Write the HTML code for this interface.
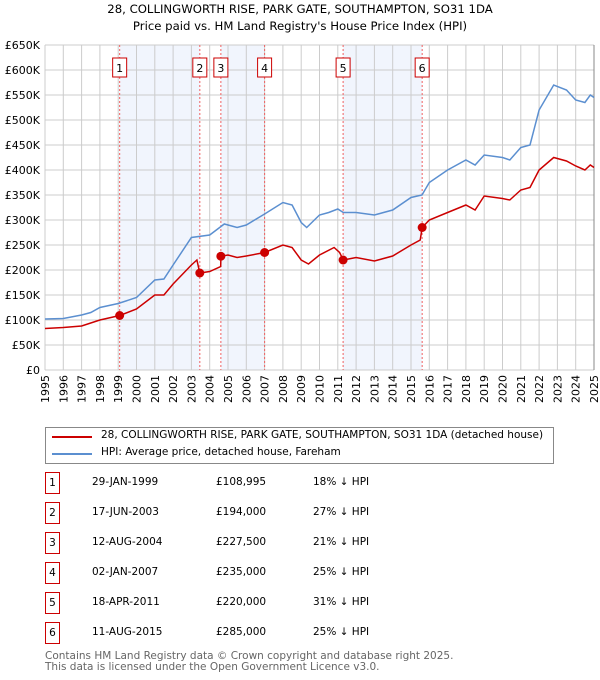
<!DOCTYPE html>
<html><head><meta charset="utf-8"><style>
body{margin:0;background:#fff;font-family:"DejaVu Sans","Liberation Sans",sans-serif;}
#wrap{position:relative;width:600px;height:680px;overflow:hidden;}
.t{position:absolute;font-size:10.5px;color:#000;white-space:nowrap;}
.nb{position:absolute;width:13px;height:20px;border:1px solid #c00;font-size:10.5px;text-align:center;line-height:20px;}
</style></head><body><div id="wrap">
<div class="t" style="left:0;width:600px;text-align:center;top:2px;font-size:11.7px">28, COLLINGWORTH RISE, PARK GATE, SOUTHAMPTON, SO31 1DA</div>
<div class="t" style="left:0;width:600px;text-align:center;top:19px;font-size:11.7px">Price paid vs. HM Land Registry's House Price Index (HPI)</div>
<svg id="chart" width="600" height="420" style="position:absolute;left:0;top:0"></svg>
<div style="position:absolute;left:45px;top:427px;width:507px;height:35px;border:1px solid #888;">
<div style="position:absolute;left:6px;top:8px;width:40px;height:2px;background:#c00"></div>
<div class="t" style="left:55px;top:1px">28, COLLINGWORTH RISE, PARK GATE, SOUTHAMPTON, SO31 1DA (detached house)</div>
<div style="position:absolute;left:6px;top:25px;width:40px;height:2px;background:#5b8fd0"></div>
<div class="t" style="left:55px;top:18px">HPI: Average price, detached house, Fareham</div>
</div>
<div id="table"></div>
<div class="t" style="left:45px;top:650px;color:#666">Contains HM Land Registry data © Crown copyright and database right 2025.</div>
<div class="t" style="left:45px;top:661px;color:#666">This data is licensed under the Open Government Licence v3.0.</div>
</div>
<script>
const hpiYears=[1995,1996,1997,1997.5,1998,1999,2000,2001,2001.5,2002,2003,2004,2004.8,2005.5,2006,2007,2008,2008.5,2009,2009.3,2010,2010.5,2011,2011.3,2012,2013,2014,2015,2015.6,2016,2017,2018,2018.5,2019,2020,2020.4,2021,2021.5,2022,2022.8,2023.5,2024,2024.5,2024.8,2025];
const hpiValues=[102000,103000,110000,115000,125000,133000,145000,180000,182000,210000,265000,270000,292000,285000,290000,312000,335000,330000,295000,285000,310000,315000,322000,315000,315000,310000,320000,345000,350000,375000,400000,420000,410000,430000,425000,420000,445000,450000,520000,570000,560000,540000,535000,550000,545000];
const ppYears=[1995,1996,1997,1998,1999.08,2000,2001,2001.5,2002,2003,2003.3,2003.46,2004,2004.6,2004.61,2005,2005.5,2006,2007,2008,2008.5,2009,2009.4,2010,2010.8,2011.1,2011.3,2012,2013,2014,2015,2015.5,2015.61,2016,2017,2018,2018.5,2019,2020,2020.4,2021,2021.5,2022,2022.8,2023.5,2024,2024.5,2024.8,2025];
const ppValues=[83000,85000,88000,100000,108995,122000,150000,150000,172000,210000,220000,194000,197000,207000,227500,230000,225000,228000,235000,250000,245000,220000,212000,230000,245000,235000,220000,225000,218000,228000,250000,260000,285000,300000,315000,330000,320000,348000,343000,340000,360000,365000,400000,425000,418000,408000,400000,410000,405000];
const saleLabels=["1","2","3","4","5","6"];
const saleYears=[1999.08,2003.46,2004.61,2007.0,2011.29,2015.61];
const salePrices=[108995,194000,227500,235000,220000,285000];
const saleDates=["29-JAN-1999","17-JUN-2003","12-AUG-2004","02-JAN-2007","18-APR-2011","11-AUG-2015"];
const saleText=["£108,995","£194,000","£227,500","£235,000","£220,000","£285,000"];
const saleHpi=["18% ↓ HPI","27% ↓ HPI","21% ↓ HPI","25% ↓ HPI","31% ↓ HPI","25% ↓ HPI"];
const yTicks=[0,50000,100000,150000,200000,250000,300000,350000,400000,450000,500000,550000,600000,650000];
const yTickLabels=["£0","£50K","£100K","£150K","£200K","£250K","£300K","£350K","£400K","£450K","£500K","£550K","£600K","£650K"];
const xTicks=[1995,1996,1997,1998,1999,2000,2001,2002,2003,2004,2005,2006,2007,2008,2009,2010,2011,2012,2013,2014,2015,2016,2017,2018,2019,2020,2021,2022,2023,2024,2025];

const X0=45,X1=594,Y0=370,Y1=45;
const xs=y=>X0+(y-1995)/30*(X1-X0);
const ys=v=>Y0-v/650000*(Y0-Y1);
const NS="http://www.w3.org/2000/svg";
const svg=document.getElementById('chart');
function mk(tag,attrs,parent){const e=document.createElementNS(NS,tag);for(const k in attrs)e.setAttribute(k,attrs[k]);(parent||svg).appendChild(e);return e;}
for(let i=0;i<6;i+=2){const r=mk('rect',{x:xs(saleYears[i]),y:Y1,width:xs(saleYears[i+1])-xs(saleYears[i]),height:Y0-Y1,fill:'#f1f5fd'});

}
yTicks.forEach((v,i)=>{const l=mk('line',{x1:X0,x2:X1,y1:ys(v),y2:ys(v),stroke:'#ccc','stroke-width':1});


const t=mk('text',{x:40,y:ys(v)+4,'text-anchor':'end','font-size':11,'font-family':'DejaVu Sans,Liberation Sans,sans-serif'});t.textContent=yTickLabels[i];

});
xTicks.forEach(y=>{const l=mk('line',{x1:xs(y),x2:xs(y),y1:Y1,y2:Y0,stroke:'#ccc','stroke-width':1});


const t=mk('text',{x:0,y:0,'text-anchor':'end','font-size':11,'font-family':'DejaVu Sans,Liberation Sans,sans-serif',transform:`translate(${xs(y)+4},375) rotate(-90)`});t.textContent=y;

});
const ax=mk('line',{x1:X1,x2:X1,y1:Y1,y2:Y0,stroke:'#888'});


saleYears.forEach((y,i)=>{const l=mk('line',{x1:xs(y),x2:xs(y),y1:Y1,y2:Y0,stroke:'#f06060','stroke-dasharray':'2,2','stroke-width':1});


const r=mk('rect',{x:xs(y)-7,y:58,width:14,height:19,fill:'#fff',stroke:'#c00'});


const t=mk('text',{x:xs(y),y:72,'text-anchor':'middle','font-size':11,'font-family':'DejaVu Sans,Liberation Sans,sans-serif'});t.textContent=saleLabels[i];

});
function path(xa,va,color,name){const p=mk('path',{d:xa.map((y,i)=>(i?'L':'M')+xs(y).toFixed(1)+','+ys(va[i]).toFixed(1)).join(''),fill:'none',stroke:color,'stroke-width':1.5});

}
path(hpiYears,hpiValues,'#5b8fd0','hpi-line');
path(ppYears,ppValues,'#c00','price-paid-line');
saleYears.forEach((y,i)=>{const c=mk('circle',{cx:xs(y),cy:ys(salePrices[i]),r:4.5,fill:'#c00'});

});
const tb=document.getElementById('table');
saleLabels.forEach((n,i)=>{const top=473+i*30;
const b=document.createElement('div');b.className='nb';b.style.left='45px';b.style.top=(top-1)+'px';b.textContent=n;

tb.appendChild(b);
[[saleDates[i],92],[saleText[i],216],[saleHpi[i],313]].forEach(([s,x],j)=>{const d=document.createElement('div');d.className='t';d.style.left=x+'px';d.style.top=(top+3)+'px';d.textContent=s;

tb.appendChild(d);});});
</script></body></html>
